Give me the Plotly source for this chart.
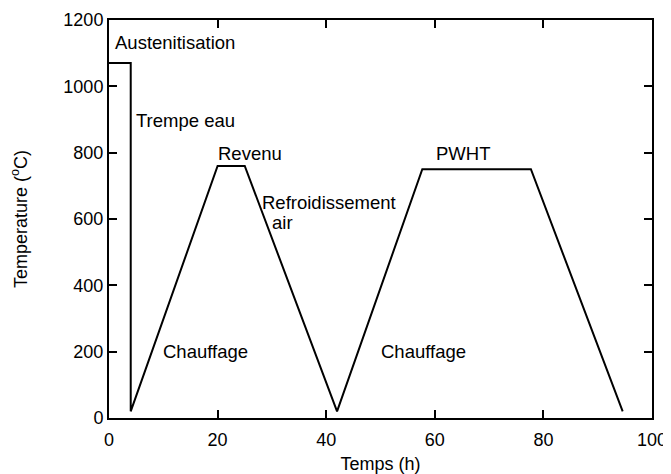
import plotly.graph_objects as go

# heat treatment cycle: time (h) vs temperature (C)
temps_h = [0, 4, 4, 20, 25, 42, 57.7, 77.7, 94.6]
temperature = [1070, 1070, 20, 760, 760, 20, 750, 750, 20]

# labels placed in data coords (left-anchored)
label_text = ["Austenitisation", "Trempe eau", "Revenu", "Refroidissement", "air",
              "PWHT", "Chauffage", "Chauffage"]
label_x = [1.05, 5.05, 20.1, 28.1, 30.1, 60.2, 10, 50]
label_y = [1131, 896, 798, 651, 589, 798, 200, 200]

font_family = "Liberation Sans, Arial, sans-serif"

fig = go.Figure()
fig.add_trace(go.Scatter(x=temps_h, y=temperature, mode="lines",
                         line=dict(color="black", width=2), showlegend=False))

for t, x, y in zip(label_text, label_x, label_y):
    fig.add_annotation(x=x, y=y, text=t, showarrow=False, xanchor="left", yanchor="middle",
                       xshift=-2, font=dict(size=18.5, color="black", family=font_family))

axis_style = dict(showline=True, linecolor="black", linewidth=2, mirror="ticks",
                  ticks="inside", ticklen=8, tickwidth=1.5, tickcolor="black",
                  showgrid=False, zeroline=False, automargin=False,
                  tickfont=dict(size=18, color="black", family=font_family))

fig.update_xaxes(range=[0, 100], tickvals=[0, 20, 40, 60, 80, 100], ticklabelstandoff=4,
                 title=dict(text="Temps (h)", standoff=16,
                            font=dict(size=18, color="black", family=font_family)),
                 **axis_style)
fig.update_yaxes(range=[0, 1200], tickvals=[0, 200, 400, 600, 800, 1000, 1200],
                 title=dict(text="Temperature (<sup>o</sup>C)", standoff=32,
                            font=dict(size=18, color="black", family=font_family)),
                 **axis_style)

# page body has an 8px margin, so the figure is shifted by 8px; compensate here
fig.update_layout(width=663, height=466, margin=dict(l=101, r=19, t=12, b=56),
                  plot_bgcolor="white", paper_bgcolor="white")

fig.write_html("out.html")
